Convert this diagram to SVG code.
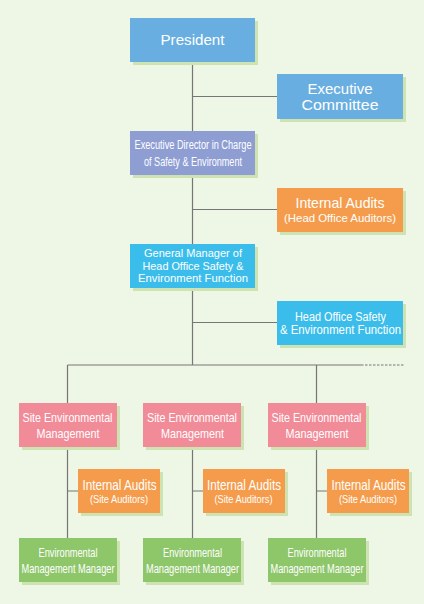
<svg xmlns="http://www.w3.org/2000/svg" width="424" height="604" viewBox="0 0 424 604">
<defs>
<style>
.bg{fill:#eef6e5}
.sh{fill:#cde3b2}
.blue{fill:#69aee1}
.purple{fill:#8e9ed3}
.orange{fill:#f59c4c}
.cyan{fill:#3bbdec}
.pink{fill:#f28b98}
.green{fill:#8ec66a}
text{font-family:"Liberation Sans",Arial,sans-serif;fill:#ffffff;text-anchor:middle}
.conn{stroke:#767676;stroke-width:1.2;fill:none}
</style>
</defs>
<rect class="bg" x="0" y="0" width="424" height="604"/>
<g id="connectors">
<path class="conn" d="M192.5,62 V365 M192.5,96.5 H277 M192.5,209.5 H277 M192.5,322.5 H277 M67.5,365 H361 M67.5,365 V403 M316.5,365 V403 M67.5,447 V538 M67.5,491 H78 M192.5,447 V538 M192.5,491 H203 M316.5,447 V538 M316.5,491 H327"/>
<path class="conn" d="M361,365 H404" stroke-dasharray="2.5 1.5"/>
</g>
<g id="president">
<rect class="sh" x="133" y="21" width="125" height="44"/>
<rect class="blue" x="130" y="18" width="125" height="44"/>
<text x="192.5" y="45" font-size="15.5" textLength="64" lengthAdjust="spacingAndGlyphs">President</text>
</g>
<g id="executive-committee">
<rect class="sh" x="280" y="77" width="126" height="45"/>
<rect class="blue" x="277" y="74" width="126" height="45"/>
<text x="340" y="94" font-size="15" textLength="65" lengthAdjust="spacingAndGlyphs">Executive</text>
<text x="340" y="110" font-size="15" textLength="77" lengthAdjust="spacingAndGlyphs">Committee</text>
</g>
<g id="executive-director">
<rect class="sh" x="133" y="134" width="125" height="44"/>
<rect class="purple" x="130" y="131" width="125" height="44"/>
<text x="193" y="148.5" font-size="12.5" textLength="117" lengthAdjust="spacingAndGlyphs">Executive Director in Charge</text>
<text x="193" y="166" font-size="12.5" textLength="98" lengthAdjust="spacingAndGlyphs">of Safety &amp; Environment</text>
</g>
<g id="internal-audits-ho">
<rect class="sh" x="280" y="191" width="126" height="44"/>
<rect class="orange" x="277" y="188" width="126" height="44"/>
<text x="340" y="208" font-size="14.5" textLength="89" lengthAdjust="spacingAndGlyphs">Internal Audits</text>
<text x="340" y="221.5" font-size="11.5" textLength="112" lengthAdjust="spacingAndGlyphs">(Head Office Auditors)</text>
</g>
<g id="general-manager">
<rect class="sh" x="133" y="247" width="125" height="44"/>
<rect class="cyan" x="130" y="244" width="125" height="44"/>
<text x="193" y="257" font-size="10.8" textLength="98" lengthAdjust="spacingAndGlyphs">General Manager of</text>
<text x="193" y="269.5" font-size="10.8" textLength="101" lengthAdjust="spacingAndGlyphs">Head Office Safety &amp;</text>
<text x="193" y="282" font-size="10.8" textLength="110" lengthAdjust="spacingAndGlyphs">Environment Function</text>
</g>
<g id="ho-safety-function">
<rect class="sh" x="280" y="304" width="126" height="44"/>
<rect class="cyan" x="277" y="301" width="126" height="44"/>
<text x="340.5" y="320.5" font-size="12" textLength="91" lengthAdjust="spacingAndGlyphs">Head Office Safety</text>
<text x="340.5" y="333.5" font-size="12" textLength="121" lengthAdjust="spacingAndGlyphs">&amp; Environment Function</text>
</g>
<g id="site-env-1">
<rect class="sh" x="22" y="406" width="98" height="44"/>
<rect class="pink" x="19" y="403" width="98" height="44"/>
<text x="67.5" y="421.5" font-size="13.5" textLength="90" lengthAdjust="spacingAndGlyphs">Site Environmental</text>
<text x="68" y="437.5" font-size="13.5" textLength="63" lengthAdjust="spacingAndGlyphs">Management</text>
</g>
<g id="site-env-2">
<rect class="sh" x="146" y="406" width="98" height="44"/>
<rect class="pink" x="143" y="403" width="98" height="44"/>
<text x="192" y="421.5" font-size="13.5" textLength="90" lengthAdjust="spacingAndGlyphs">Site Environmental</text>
<text x="192.5" y="437.5" font-size="13.5" textLength="63" lengthAdjust="spacingAndGlyphs">Management</text>
</g>
<g id="site-env-3">
<rect class="sh" x="271" y="406" width="98" height="44"/>
<rect class="pink" x="268" y="403" width="98" height="44"/>
<text x="316.5" y="421.5" font-size="13.5" textLength="90" lengthAdjust="spacingAndGlyphs">Site Environmental</text>
<text x="317" y="437.5" font-size="13.5" textLength="63" lengthAdjust="spacingAndGlyphs">Management</text>
</g>
<g id="internal-audits-site-1">
<rect class="sh" x="81" y="472" width="82" height="44"/>
<rect class="orange" x="78" y="469" width="82" height="44"/>
<text x="119.5" y="490" font-size="14" textLength="74" lengthAdjust="spacingAndGlyphs">Internal Audits</text>
<text x="119" y="502.5" font-size="11" textLength="58" lengthAdjust="spacingAndGlyphs">(Site Auditors)</text>
</g>
<g id="internal-audits-site-2">
<rect class="sh" x="206" y="472" width="82" height="44"/>
<rect class="orange" x="203" y="469" width="82" height="44"/>
<text x="244" y="490" font-size="14" textLength="74" lengthAdjust="spacingAndGlyphs">Internal Audits</text>
<text x="243.5" y="502.5" font-size="11" textLength="58" lengthAdjust="spacingAndGlyphs">(Site Auditors)</text>
</g>
<g id="internal-audits-site-3">
<rect class="sh" x="330" y="472" width="82" height="44"/>
<rect class="orange" x="327" y="469" width="82" height="44"/>
<text x="368.5" y="490" font-size="14" textLength="74" lengthAdjust="spacingAndGlyphs">Internal Audits</text>
<text x="368" y="502.5" font-size="11" textLength="58" lengthAdjust="spacingAndGlyphs">(Site Auditors)</text>
</g>
<g id="env-manager-1">
<rect class="sh" x="22" y="541" width="98" height="44"/>
<rect class="green" x="19" y="538" width="98" height="44"/>
<text x="68" y="557" font-size="13" textLength="59" lengthAdjust="spacingAndGlyphs">Environmental</text>
<text x="68" y="573" font-size="13" textLength="93" lengthAdjust="spacingAndGlyphs">Management Manager</text>
</g>
<g id="env-manager-2">
<rect class="sh" x="146" y="541" width="98" height="44"/>
<rect class="green" x="143" y="538" width="98" height="44"/>
<text x="192.5" y="557" font-size="13" textLength="59" lengthAdjust="spacingAndGlyphs">Environmental</text>
<text x="192.5" y="573" font-size="13" textLength="93" lengthAdjust="spacingAndGlyphs">Management Manager</text>
</g>
<g id="env-manager-3">
<rect class="sh" x="271" y="541" width="98" height="44"/>
<rect class="green" x="268" y="538" width="98" height="44"/>
<text x="317" y="557" font-size="13" textLength="59" lengthAdjust="spacingAndGlyphs">Environmental</text>
<text x="317" y="573" font-size="13" textLength="93" lengthAdjust="spacingAndGlyphs">Management Manager</text>
</g>
</svg>
